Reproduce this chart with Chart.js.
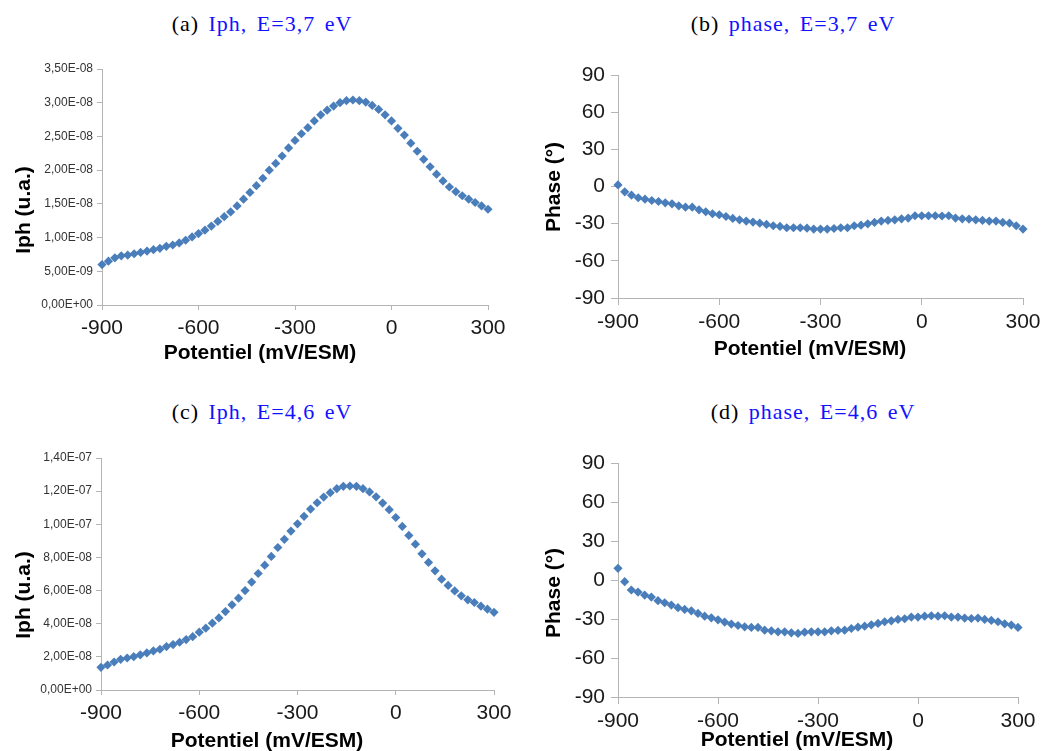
<!DOCTYPE html>
<html>
<head>
<meta charset="utf-8">
<script src="https://cdn.jsdelivr.net/npm/chart.js@4.4.0/dist/chart.umd.min.js"></script>
<style>
  body { margin: 0; background: #fff; width: 1046px; height: 751px; position: relative; overflow: hidden; }
  canvas { position: absolute; }
  .cap { position: absolute; transform: translate(-50%, -50%); font-family: "Liberation Serif", serif; font-size: 22px; letter-spacing: 1px; word-spacing: 3px; white-space: nowrap; color: #000; }
  .cap .b { color: #1212ff; }
  .ttl { position: absolute; font-family: "Liberation Sans", Arial, sans-serif; font-weight: bold; font-size: 21px; white-space: nowrap; color: #000; transform: translate(-50%, -50%); }
  .ttl.rot { transform: translate(-50%, -50%) rotate(-90deg); }
</style>
</head>
<body>
<div class="cap" style="left:262px;top:24px">(a) <span class="b">Iph, E=3,7 eV</span></div>
<div class="cap" style="left:793px;top:24px">(b) <span class="b">phase, E=3,7 eV</span></div>
<div class="cap" style="left:262px;top:412px">(c) <span class="b">Iph, E=4,6 eV</span></div>
<div class="cap" style="left:813px;top:412px">(d) <span class="b">phase, E=4,6 eV</span></div>

<canvas id="chartA" style="left:0;top:50px" width="520" height="300"></canvas>
<canvas id="chartB" style="left:520px;top:50px" width="526" height="300"></canvas>
<canvas id="chartC" style="left:0;top:430px" width="520" height="320"></canvas>
<canvas id="chartD" style="left:520px;top:430px" width="526" height="320"></canvas>

<div class="ttl rot" style="left:23px;top:210px">Iph (u.a.)</div>
<div class="ttl" style="left:260px;top:352px">Potentiel (mV/ESM)</div>
<div class="ttl rot" style="left:553px;top:187px">Phase (°)</div>
<div class="ttl" style="left:810px;top:348px">Potentiel (mV/ESM)</div>
<div class="ttl rot" style="left:23px;top:595px">Iph (u.a.)</div>
<div class="ttl" style="left:267px;top:740px">Potentiel (mV/ESM)</div>
<div class="ttl rot" style="left:553px;top:593px">Phase (°)</div>
<div class="ttl" style="left:797px;top:739px">Potentiel (mV/ESM)</div>

<script>
// potentiel (mV/ESM), un point tous les 20 mV
const potentiel = [-900, -880, -860, -840, -820, -800, -780, -760, -740, -720,
  -700, -680, -660, -640, -620, -600, -580, -560, -540, -520,
  -500, -480, -460, -440, -420, -400, -380, -360, -340, -320,
  -300, -280, -260, -240, -220, -200, -180, -160, -140, -120,
  -100, -80, -60, -40, -20, 0, 20, 40, 60, 80,
  100, 120, 140, 160, 180, 200, 220, 240, 260, 280, 300];

// Iph en unites de 1E-08
const iph37 = [0.60, 0.65, 0.70, 0.73, 0.74, 0.76, 0.78, 0.80, 0.82, 0.84,
  0.87, 0.89, 0.92, 0.96, 1.01, 1.06, 1.11, 1.17, 1.24, 1.31,
  1.38, 1.47, 1.57, 1.67, 1.77, 1.88, 2.00, 2.10, 2.21, 2.33,
  2.44, 2.54, 2.63, 2.73, 2.82, 2.89, 2.95, 3.00, 3.03, 3.04,
  3.03, 3.01, 2.96, 2.90, 2.82, 2.73, 2.62, 2.52, 2.40, 2.28,
  2.16, 2.05, 1.94, 1.84, 1.75, 1.68, 1.62, 1.57, 1.52, 1.47, 1.42];

const phase37 = [1.3, -4.3, -7.0, -9.1, -10.2, -11.3, -12.1, -13.2, -14.0, -15.6,
  -16.7, -16.7, -18.8, -20.4, -22.0, -22.8, -24.2, -25.8, -26.9, -27.9,
  -28.7, -29.6, -30.6, -31.7, -32.2, -33.3, -33.3, -33.3, -33.6, -34.4,
  -34.4, -34.4, -33.9, -33.3, -33.3, -31.7, -31.2, -30.1, -29.0, -27.9,
  -27.4, -26.9, -26.1, -25.5, -23.6, -23.6, -23.6, -23.6, -23.8, -23.6,
  -25.5, -26.1, -26.3, -26.9, -27.4, -27.9, -27.9, -29.0, -29.6, -31.7, -34.4];

const iph46 = [1.37, 1.51, 1.69, 1.85, 1.93, 2.01, 2.12, 2.24, 2.36, 2.46,
  2.62, 2.74, 2.88, 3.04, 3.22, 3.49, 3.73, 4.03, 4.35, 4.73,
  5.14, 5.54, 6.00, 6.51, 7.03, 7.53, 8.06, 8.60, 9.09, 9.59,
  10.03, 10.48, 10.92, 11.30, 11.64, 11.91, 12.15, 12.29, 12.31, 12.29,
  12.15, 11.95, 11.66, 11.28, 10.88, 10.41, 9.87, 9.33, 8.80, 8.22,
  7.70, 7.19, 6.69, 6.31, 5.98, 5.68, 5.44, 5.28, 5.06, 4.88, 4.69];

const phase46 = [9.0, -1.3, -7.7, -9.3, -11.6, -13.1, -15.9, -17.5, -19.3, -21.3,
  -22.6, -23.7, -25.7, -27.8, -29.1, -30.6, -32.4, -33.9, -35.0, -36.0,
  -36.5, -36.5, -38.6, -39.1, -39.9, -39.9, -40.6, -41.1, -40.1, -39.9,
  -39.9, -39.9, -39.1, -38.8, -38.6, -37.3, -36.3, -35.5, -34.5, -33.4,
  -32.1, -31.4, -30.3, -29.8, -28.5, -28.5, -27.8, -27.5, -27.8, -27.5,
  -28.5, -28.5, -29.3, -29.6, -29.3, -30.3, -31.1, -32.1, -33.7, -34.7, -36.5];

// graduations
const xTicks = [-900, -600, -300, 0, 300];
const iph37Ticks = [0, 5e-9, 1e-8, 1.5e-8, 2e-8, 2.5e-8, 3e-8, 3.5e-8];
const iph46Ticks = [0, 2e-8, 4e-8, 6e-8, 8e-8, 1e-7, 1.2e-7, 1.4e-7];
const phaseTicks = [-90, -60, -30, 0, 30, 60, 90];

// format Excel "3,50E-08"
function sciFmt(v) {
    if (Math.abs(v) < 1e-20) return '0,00E+00';
    const e = Math.floor(Math.log10(Math.abs(v)) + 1e-9);
    const m = v / Math.pow(10, e);
    const exp = String(Math.abs(e)).padStart(2, '0');
    return m.toFixed(2).replace('.', ',') + 'E' + (e < 0 ? '-' : '+') + exp;
}

function makeChart(id, ys, scaleY, yTicks, o) {
    const pts = potentiel.map((x, i) => ({ x: x, y: ys[i] * scaleY }));
    return new Chart(document.getElementById(id), {
        type: 'scatter',
        data: {
            datasets: [{
                data: pts,
                pointStyle: 'rectRot',
                pointRadius: 4.6,
                pointBackgroundColor: '#4a7ebb',
                pointBorderColor: '#4a7ebb',
                pointBorderWidth: 0,
                showLine: false,
                clip: false
            }]
        },
        options: {
            responsive: false,
            animation: false,
            layout: { padding: { left: 0, top: o.top, right: o.right, bottom: 0 } },
            plugins: { legend: { display: false }, tooltip: { enabled: false } },
            scales: {
                x: {
                    type: 'linear',
                    min: -900,
                    max: 300,
                    afterBuildTicks: s => { s.ticks = xTicks.map(v => ({ value: v })); },
                    afterFit: s => { s.height = o.xh; },
                    grid: { drawOnChartArea: false, tickLength: o.tick, color: '#b4b4b4' },
                    border: { color: '#b4b4b4' },
                    ticks: {
                        padding: o.xpad,
                        color: '#1a1a1a',
                        maxRotation: 0,
                        font: { family: 'Liberation Sans', size: 21 }
                    }
                },
                y: {
                    type: 'linear',
                    min: yTicks[0],
                    max: yTicks[yTicks.length - 1],
                    afterBuildTicks: s => { s.ticks = yTicks.map(v => ({ value: v })); },
                    afterFit: s => { s.width = o.yw; },
                    grid: { drawOnChartArea: false, tickLength: o.tick, color: '#b4b4b4' },
                    border: { color: '#b4b4b4' },
                    ticks: {
                        padding: o.ypad,
                        color: o.ycolor,
                        font: { family: 'Liberation Sans', size: o.yfont },
                        callback: o.fmt
                    }
                }
            }
        }
    });
}

makeChart('chartA', iph37, 1e-8, iph37Ticks,
    { top: 19, right: 32, xh: 45, yw: 102, tick: 5, xpad: 6, ypad: 4, yfont: 12, ycolor: '#333', fmt: sciFmt });
makeChart('chartB', phase37, 1, phaseTicks,
    { top: 25, right: 23, xh: 52, yw: 98, tick: 7, xpad: 5, ypad: 6, yfont: 21, ycolor: '#1a1a1a', fmt: v => String(v) });
makeChart('chartC', iph46, 1e-8, iph46Ticks,
    { top: 28, right: 26, xh: 60, yw: 101, tick: 5, xpad: 6, ypad: 4, yfont: 12, ycolor: '#333', fmt: sciFmt });
makeChart('chartD', phase46, 1, phaseTicks,
    { top: 33, right: 28, xh: 53, yw: 98, tick: 7, xpad: 5, ypad: 6, yfont: 21, ycolor: '#1a1a1a', fmt: v => String(v) });
</script>
</body>
</html>
